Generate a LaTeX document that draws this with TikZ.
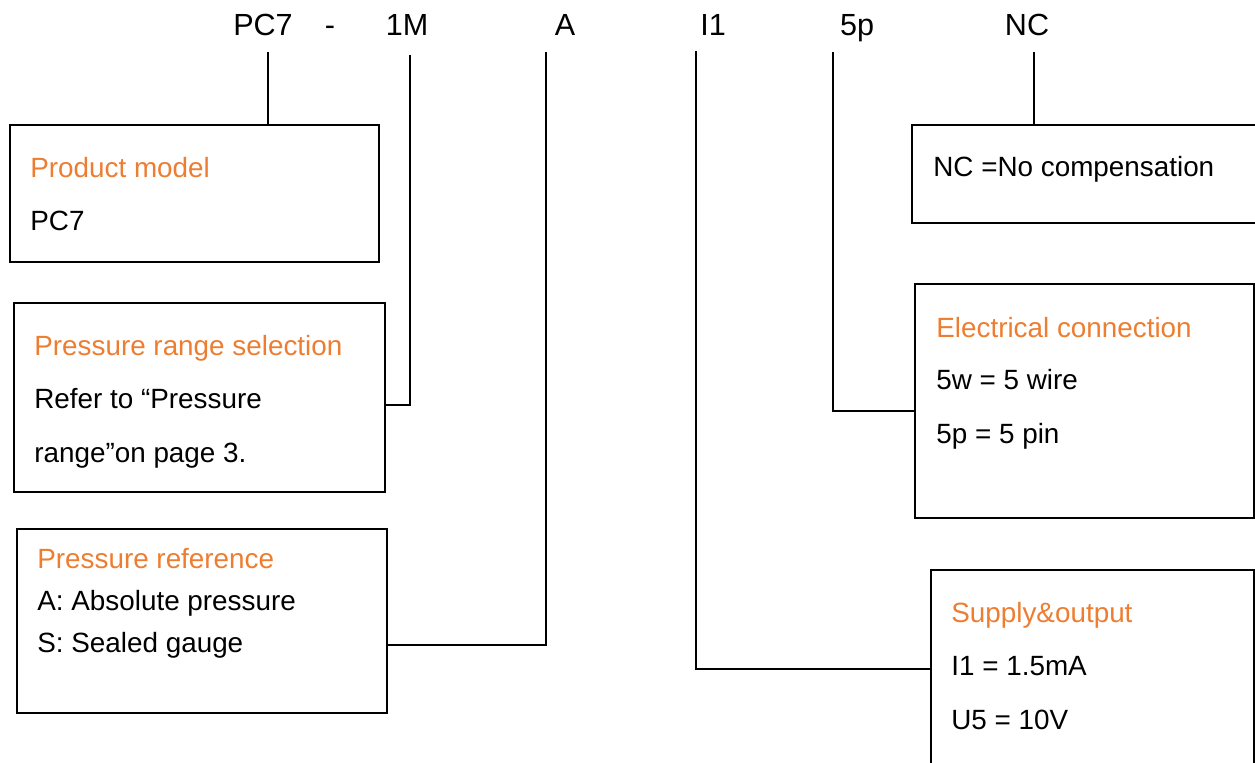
\documentclass[tikz,border=0pt]{standalone}
\usepackage{fontspec}
\setmainfont{Liberation Sans}
\definecolor{hdorange}{HTML}{ED7D31}
\begin{document}
\begin{tikzpicture}[x=0.02cm,y=-0.02cm]
	% one pixel of the layout
	\def\px{0.02cm}
	\def\txtsz{\fontsize{15.85}{19}\selectfont}
	\def\codesz{\fontsize{17.4}{20}\selectfont}
	% node style definition
	\tikzstyle{box} = [draw, line width=0.9pt, rectangle, anchor=north west, inner sep=0pt];
	\tikzstyle{code} = [inner sep=0pt, anchor=base, font=\codesz];
	\tikzstyle{head} = [inner sep=0pt, anchor=base west, text=hdorange, font=\txtsz];
	\tikzstyle{item} = [inner sep=0pt, anchor=base west, font=\txtsz];
	\tikzstyle{lead} = [line width=0.95pt];
	\tikzstyle{leadthick} = [line width=1.6pt];
	\useasboundingbox (0,0) rectangle (1255,762);
	% code letters on top
	\node[code] (cPC) at (263,35) {PC7};
	\node[code] (cDash) at (330,35) {-};
	\node[code] (c1M) at (407,35) {1M};
	\node[code] (cA) at (565,35) {A};
	\node[code] (cI1) at (713,35) {I1};
	\node[code] (c5p) at (857,35) {5p};
	\node[code] (cNC) at (1027,35) {NC};
	% boxes
	\node[box, minimum width=369*\px, minimum height=137*\px] (model) at (9,124) {};
	\node[box, minimum width=371*\px, minimum height=189*\px] (range) at (13,302) {};
	\node[box, minimum width=370*\px, minimum height=184*\px] (ref) at (16,528) {};
	\node[box, minimum width=349*\px, minimum height=98*\px] (comp) at (911,124) {};
	\node[box, minimum width=339*\px, minimum height=234*\px] (elec) at (914,283) {};
	\node[box, minimum width=323*\px, minimum height=211*\px] (supply) at (930,569) {};
	% box texts
	\node[head] at (30,177) {Product model};
	\node[item] at (30,230) {PC7};
	\node[head] at (34,355) {Pressure range selection};
	\node[item] at (34,408) {Refer to “Pressure};
	\node[item] at (34,462) {range”on page 3.};
	\node[head] at (37,568) {Pressure reference};
	\node[item] at (37,610) {A: Absolute pressure};
	\node[item] at (37,652) {S: Sealed gauge};
	\node[item] at (933,176) {NC =No compensation};
	\node[head] at (936,337) {Electrical connection};
	\node[item] at (936,389) {5w = 5 wire};
	\node[item] at (936,443) {5p = 5 pin};
	\node[head] at (951,622) {Supply\&output};
	\node[item] at (951,675) {I1 = 1.5mA};
	\node[item] at (951,729) {U5 = 10V};
	% leader lines
	\coordinate (tPC) at (268,52);
	\coordinate (t1M) at (410,55);
	\coordinate (tA) at (546,52);
	\coordinate (tI1) at (696,51);
	\coordinate (t5p) at (833,52);
	\coordinate (tNC) at (1034,52);
	\coordinate (b1M) at (410,405);
	\coordinate (bA) at (546,645);
	\coordinate (bI1) at (696,669);
	\coordinate (b5p) at (833,411);
	\draw[leadthick] (tPC) -- (tPC |- model.north);
	\draw[leadthick] (tNC) -- (tNC |- comp.north);
	\draw[lead] (t1M) -- (b1M) -- (b1M -| range.east);
	\draw[lead] (tA) -- (bA) -- (bA -| ref.east);
	\draw[lead] (tI1) -- (bI1) -- (bI1 -| supply.west);
	\draw[lead] (t5p) -- (b5p) -- (b5p -| elec.west);
\end{tikzpicture}
\end{document}
